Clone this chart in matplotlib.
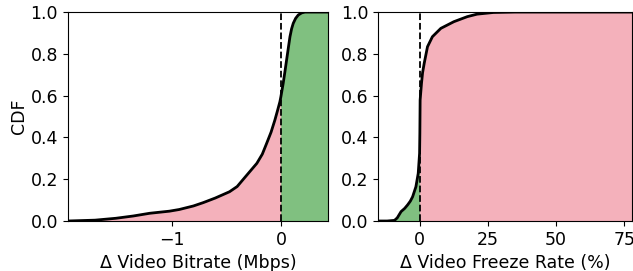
import numpy as np
import matplotlib
matplotlib.use("Agg")
import matplotlib.pyplot as plt

# Δ bitrate CDF (Mbps)
bitrate_x = [-1.95, -1.70, -1.51, -1.35, -1.20, -1.02, -0.93, -0.80, -0.71, -0.60,
             -0.47, -0.40, -0.35, -0.29, -0.22, -0.17, -0.13, -0.09, -0.055, -0.03,
             -0.009, 0.0, 0.021, 0.037, 0.052, 0.068, 0.083, 0.098, 0.113, 0.135,
             0.159, 0.19, 0.22, 0.30, 0.43]
bitrate_y = [0.0, 0.004, 0.013, 0.024, 0.037, 0.047, 0.055, 0.072, 0.088, 0.11,
             0.14, 0.165, 0.196, 0.233, 0.276, 0.32, 0.372, 0.425, 0.483, 0.53,
             0.571, 0.595, 0.659, 0.715, 0.770, 0.828, 0.882, 0.92, 0.946, 0.970,
             0.986, 0.996, 1.0, 1.0, 1.0]

# Δ freeze rate CDF (%)
freeze_x = [-15.4, -12.0, -9.3, -8.3, -6.9, -5.6, -4.5, -3.5, -2.66, -1.45,
            -0.6, -0.1, 0.0, 0.1, 0.6, 1.0, 1.6, 2.8, 4.6, 7.7,
            12.5, 17.4, 21.0, 27.0, 35.0, 78.0]
freeze_y = [0.0, 0.0, 0.003, 0.015, 0.045, 0.06, 0.077, 0.095, 0.116, 0.164,
            0.228, 0.324, 0.42, 0.579, 0.659, 0.71, 0.755, 0.834, 0.882, 0.922,
            0.954, 0.978, 0.990, 0.998, 1.0, 1.0]

GREEN = "#80C080"
PINK = "#F4B1BB"
FS = 12.5

plt.rcParams["font.family"] = "DejaVu Sans"
fig = plt.figure(figsize=(6.33, 2.71), dpi=100)
ax1 = fig.add_axes([0.107, 0.1845, 0.411, 0.771])
ax2 = fig.add_axes([0.597, 0.1845, 0.402, 0.771])


def draw_cdf(ax, x, y, neg_color, pos_color):
    x = np.array(x); y = np.array(y)
    neg = x <= 0
    pos = x >= 0
    ax.fill_between(x[neg], 0, y[neg], color=neg_color, lw=0.5, edgecolor=neg_color)
    ax.fill_between(x[pos], 0, y[pos], color=pos_color, lw=0.5, edgecolor=pos_color)
    ax.axvline(0, color="black", ls="--", lw=1.3)
    ax.plot(x, y, color="black", lw=2, solid_joinstyle="round")
    ax.set_ylim(0, 1)
    ax.set_xlim(x[0], x[-1])
    ax.tick_params(labelsize=FS)


draw_cdf(ax1, bitrate_x, bitrate_y, PINK, GREEN)
ax1.set_xticks([-1, 0])
ax1.set_xticklabels(["\u22121", "0"])
ax1.set_yticks([0, 0.2, 0.4, 0.6, 0.8, 1.0])
ax1.set_ylabel("CDF", fontsize=FS, labelpad=1.5)
ax1.set_xlabel("Δ Video Bitrate (Mbps)", fontsize=FS)

draw_cdf(ax2, freeze_x, freeze_y, GREEN, PINK)
ax2.set_xticks([0, 25, 50, 75])
ax2.set_yticks([0, 0.2, 0.4, 0.6, 0.8, 1.0])
ax2.set_xlabel("Δ Video Freeze Rate (%)", fontsize=FS)

fig.savefig("out.png", dpi=100)
